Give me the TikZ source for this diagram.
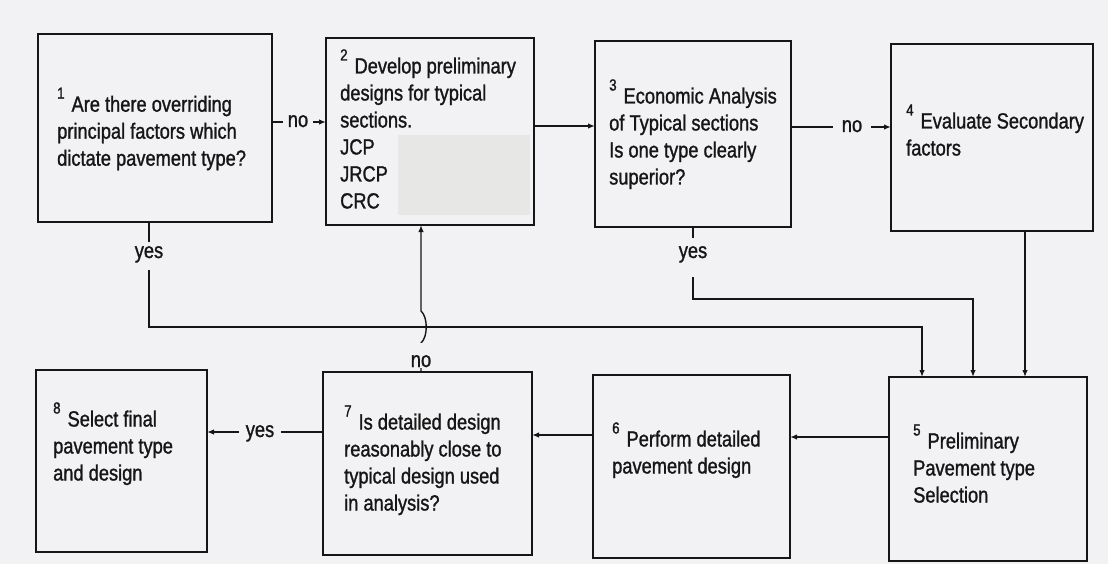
\documentclass[tikz,border=0pt]{standalone}
\usepackage{fontspec}
\setmainfont{Liberation Sans}[FakeStretch=0.83,FakeBold=1.2]
\usetikzlibrary{arrows.meta,fit}
\definecolor{paper}{HTML}{F2F2F4}
\definecolor{ink}{HTML}{161616}
\definecolor{patch}{HTML}{E7E7E5}
% raised step number in front of the first line of a box
\newcommand\stepno[1]{\raisebox{13pt}{\fontsize{16}{16}\selectfont #1}\hspace{7pt}}
% left-aligned block whose baseline is the first line
\newcommand\lines[1]{\begin{tabular}[t]{@{}l@{}}#1\end{tabular}}

\begin{document}
\begin{tikzpicture}[x=1pt,y=-1pt,
  box/.style={draw=ink, line width=1.8pt, inner sep=0pt, outer sep=0pt},
  txt/.style={anchor=base west, inner sep=0pt, text=ink, font=\fontsize{22}{27}\selectfont},
  conn/.style={draw=ink, line width=1.4pt},
  arr/.style={conn, -{Latex[length=7pt,width=5.5pt]}},
  lbl/.style={fill=paper, text=ink, anchor=base, inner sep=0pt, font=\fontsize{22}{27}\selectfont},
]
\fill[paper] (0,0) rectangle (1108,564);
\useasboundingbox (0,0) rectangle (1108,564);

% step boxes
\node[box, fit={(38,34) (272,222)}]   (b1) {};
\node[fill=patch, inner sep=0pt, fit={(398,135) (530,215)}] (shade2) {};
\node[box, fit={(326,38) (534,225)}]  (b2) {};
\node[box, fit={(595,41) (791,227)}]  (b3) {};
\node[box, fit={(891,44) (1093,231)}] (b4) {};
\node[box, fit={(889,377) (1087,561)}] (b5) {};
\node[box, fit={(593,375) (790,558)}] (b6) {};
\node[box, fit={(323,372) (532,555)}] (b7) {};
\node[box, fit={(36,370) (207,552)}]  (b8) {};

% box texts
\node[txt] (t1) at (57,111.7) {\lines{\stepno{1}Are there overriding\\ principal factors which\\ dictate pavement type?}};
\node[txt] (t2) at (340,73.5) {\lines{\stepno{2}Develop preliminary\\ designs for typical\\ sections.\\ JCP\\ JRCP\\ CRC}};
\node[txt] (t3) at (609,103.5) {\lines{\stepno{3}Economic Analysis\\ of Typical sections\\ Is one type clearly\\ superior?}};
\node[txt] (t4) at (906,128.5) {\lines{\stepno{4}Evaluate Secondary\\ factors}};
\node[txt] (t5) at (913,448.5) {\lines{\stepno{5}Preliminary\\ Pavement type\\ Selection}};
\node[txt] (t6) at (612,446.5) {\lines{\stepno{6}Perform detailed\\ pavement design}};
\node[txt] (t7) at (344,429.5) {\lines{\stepno{7}Is detailed design\\ reasonably close to\\ typical design used\\ in analysis?}};
\node[txt] (t8) at (53,426.5) {\lines{\stepno{8}Select final\\ pavement type\\ and design}};

% top row
\draw[arr] (b1.east |- 0,122) -- (b2.west |- 0,122);
\draw[arr] (b2.east |- 0,126) -- (b3.west |- 0,126);
\draw[arr] (b3.east |- 0,127) -- (b4.west |- 0,127);

% yes branches down to step 5
\draw[arr] (b1.south -| 149,0) -- (149,327) -| (b5.north -| 922,0);
\draw[arr] (b3.south -| 693,0) -- (693,299) -| (b5.north -| 973,0);
\draw[arr] (b4.south -| 1025,0) -- (b5.north -| 1025,0);

% bottom row
\draw[arr] (b5.west |- 0,437) -- (b6.east |- 0,437);
\draw[arr] (b6.west |- 0,435) -- (b7.east |- 0,435);
\draw[arr] (b7.west |- 0,432) -- (b8.east |- 0,432);

% loop back from 7 to 2, hopping over the crossing line
\draw[arr] (b7.north -| 421,0) -- (421,343)
  .. controls (428,337) and (428,317) .. (421,311) -- (b2.south -| 421,0);

% connector labels
\node[lbl, inner xsep=5pt] (no12) at (298,127) {no};
\node[lbl, inner xsep=8.5pt] (no34) at (852,132) {no};
\node[lbl, text height=16pt, text depth=12pt] (yes1) at (149,258) {yes};
\node[lbl, text height=20pt, text depth=19pt] (yes3) at (693,258) {yes};
\node[lbl, inner xsep=7pt] (yes78) at (260,437) {yes};
\node[lbl, text height=24pt, text depth=1pt] (no72) at (421,367) {no};
\end{tikzpicture}
\end{document}
